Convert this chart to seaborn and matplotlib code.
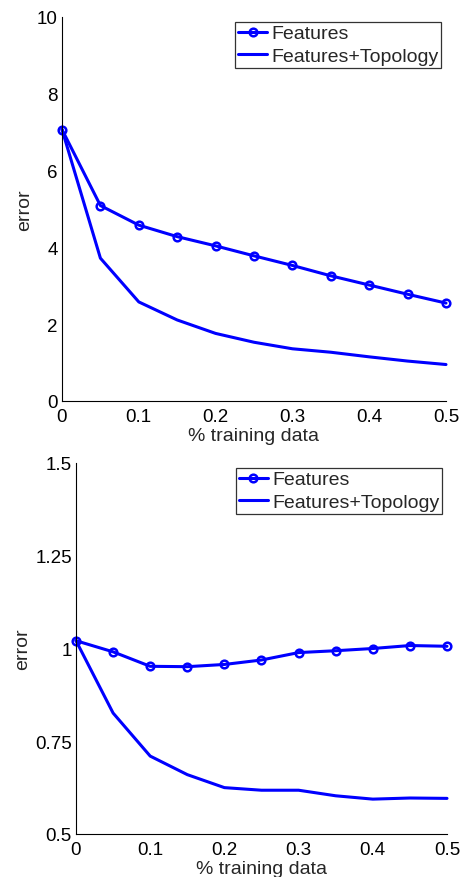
import pandas as pd
import matplotlib
matplotlib.use("Agg")
import matplotlib.pyplot as plt
import seaborn as sns

sns.set_style('white')
plt.rcParams['font.family'] = ['Liberation Sans', 'DejaVu Sans']

train_frac = [0, 0.05, 0.1, 0.15, 0.2, 0.25, 0.3, 0.35, 0.4, 0.45, 0.5]

# top panel
top_features = [7.07, 5.09, 4.58, 4.28, 4.04, 3.78, 3.53, 3.26, 3.02, 2.78, 2.55]
top_topology = [7.07, 3.72, 2.58, 2.11, 1.76, 1.53, 1.36, 1.27, 1.15, 1.04, 0.95]

# bottom panel
bot_features = [1.021, 0.991, 0.952, 0.951, 0.957, 0.969, 0.989, 0.994, 1.0, 1.008, 1.006]
bot_topology = [1.021, 0.826, 0.710, 0.660, 0.625, 0.618, 0.618, 0.603, 0.594, 0.597, 0.596]

top_yticks = [0, 2, 4, 6, 8, 10]
top_yticklabels = ['0', '2', '4', '6', '8', '10']
bot_yticks = [0.5, 0.75, 1.0, 1.25, 1.5]
bot_yticklabels = ['0.5', '0.75', '1', '1.25', '1.5']
xticks = [0, 0.1, 0.2, 0.3, 0.4, 0.5]
xticklabels = ['0', '0.1', '0.2', '0.3', '0.4', '0.5']

fig = plt.figure(figsize=(4.64, 8.78), dpi=100)
W, H = 464, 878
ax1 = fig.add_axes([62 / W, 1 - 402 / H, 384 / W, 384 / H])
ax2 = fig.add_axes([76 / W, 1 - 835 / H, 371 / W, 371 / H])


def draw(ax, feats, topo, yticks, ylabels, ylim):
    df = pd.DataFrame({'x': train_frac, 'feat': feats, 'topo': topo})
    sns.lineplot(data=df, x='x', y='feat', ax=ax, color='#0000ff', lw=2.2,
                 marker='o', markersize=5.5, markerfacecolor='none',
                 markeredgecolor='#0000ff', markeredgewidth=1.8,
                 label='Features', clip_on=False)
    sns.lineplot(data=df, x='x', y='topo', ax=ax, color='#0000ff', lw=2.2,
                 label='Features+Topology', clip_on=False)
    ax.set_xlim(0, 0.5)
    ax.set_ylim(*ylim)
    ax.set_xticks(xticks)
    ax.set_xticklabels(xticklabels)
    ax.set_yticks(yticks)
    ax.set_yticklabels(ylabels)
    ax.tick_params(direction='in', length=4, width=0.8, labelsize=13.5,
                   colors='black')
    ax.tick_params(axis='x', pad=5)
    ax.tick_params(axis='y', pad=3)
    for s in ['top', 'right']:
        ax.spines[s].set_visible(False)
    for s in ['left', 'bottom']:
        ax.spines[s].set_color('black')
        ax.spines[s].set_linewidth(0.8)
    ax.set_xlabel('% training data', fontsize=14, labelpad=1.5)
    ax.set_ylabel('error', fontsize=14, labelpad=3)
    leg = ax.legend(loc='upper right', fontsize=14, frameon=True, fancybox=False,
                    edgecolor='black', borderpad=0.15, handlelength=1.5,
                    handletextpad=0.2, labelspacing=0.25, borderaxespad=0.25)
    leg.get_frame().set_linewidth(0.9)
    ax.set_facecolor('white')


draw(ax1, top_features, top_topology, top_yticks, top_yticklabels, (0, 10))
draw(ax2, bot_features, bot_topology, bot_yticks, bot_yticklabels, (0.5, 1.5))

fig.savefig('out.png', dpi=100, facecolor='white')
